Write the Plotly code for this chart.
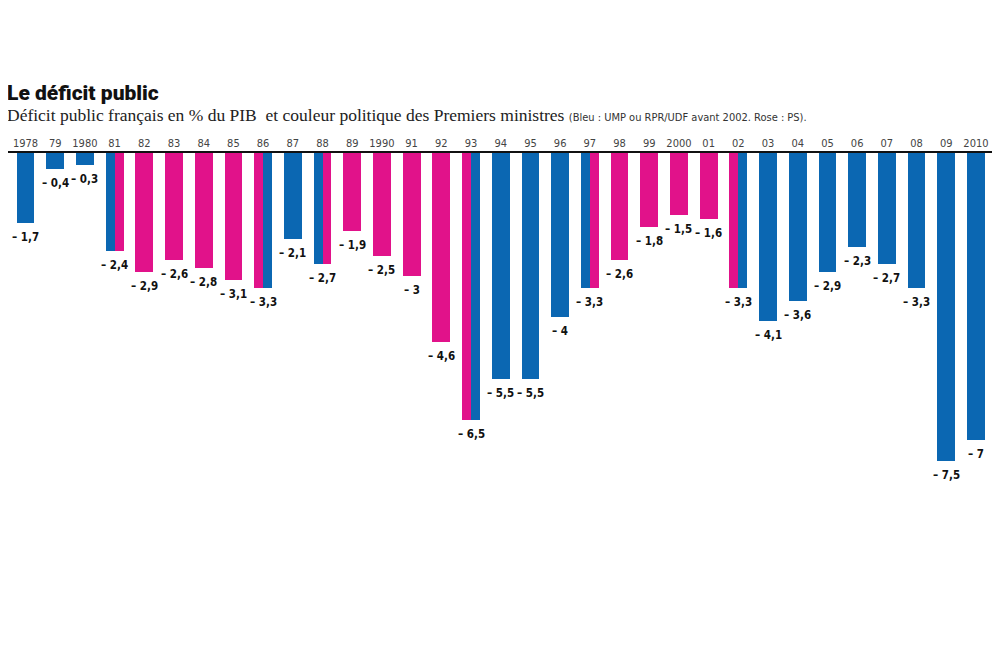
import plotly.graph_objects as go

years = ["1978", "79", "1980", "81", "82", "83", "84", "85", "86", "87", "88", "89", "1990",
         "91", "92", "93", "94", "95", "96", "97", "98", "99", "2000", "01", "02", "03", "04",
         "05", "06", "07", "08", "09", "2010"]
deficit = [-1.7, -0.4, -0.3, -2.4, -2.9, -2.6, -2.8, -3.1, -3.3, -2.1, -2.7, -1.9, -2.5,
           -3, -4.6, -6.5, -5.5, -5.5, -4, -3.3, -2.6, -1.8, -1.5, -1.6, -3.3, -4.1, -3.6,
           -2.9, -2.3, -2.7, -3.3, -7.5, -7]
# party of Prime Minister at start / end of year (B = UMP/RPR/UDF, P = PS)
party_start = ["B", "B", "B", "B", "P", "P", "P", "P", "P", "B", "B", "P", "P",
               "P", "P", "P", "B", "B", "B", "B", "P", "P", "P", "P", "P", "B", "B",
               "B", "B", "B", "B", "B", "B"]
party_end = ["B", "B", "B", "P", "P", "P", "P", "P", "B", "B", "P", "P", "P",
             "P", "P", "B", "B", "B", "B", "P", "P", "P", "P", "P", "B", "B", "B",
             "B", "B", "B", "B", "B", "B"]

BLUE = "#0b67b2"
PINK = "#e1128a"
col = {"B": BLUE, "P": PINK}
NARROW = "DejaVu Sans Condensed, Liberation Sans Narrow, Arial Narrow, sans-serif"

idx = list(range(len(years)))

fig = go.Figure()
fig.add_trace(go.Bar(
    x=idx, y=deficit, width=0.6,
    marker=dict(color=[col[p] for p in party_start], line=dict(width=0)),
    hoverinfo="skip", showlegend=False,
))
split = [i for i in idx if party_start[i] != party_end[i]]
fig.add_trace(go.Bar(
    x=[i + 0.15 for i in split], y=[deficit[i] for i in split], width=0.3,
    marker=dict(color=[col[party_end[i]] for i in split], line=dict(width=0)),
    hoverinfo="skip", showlegend=False,
))

# page has an 8px body margin: figure sits at (8, 8)
W, H = 984, 650
T, B, L, R = 145, 8, 0, 0
ph = H - T - B


def py(pix):  # page pixel -> paper y
    return 1 + (T - (pix - 8)) / ph


def fmt(v):
    return "– " + f"{abs(v):g}".replace(".", ",")


annotations = []
for i, v in zip(idx, deficit):
    annotations.append(dict(
        x=i, y=v, xref="x", yref="y", text=fmt(v), showarrow=False,
        yanchor="top", xanchor="center", yshift=-5,
        font=dict(family=NARROW, size=11.5, color="#111", weight="bold"),
    ))

annotations.append(dict(
    x=0, y=py(93), xref="paper", yref="paper", xanchor="left", yanchor="middle",
    xshift=-3, text="Le déficit public", showarrow=False,
    font=dict(family="Roboto", size=21, color="#111", weight=900),
))
annotations.append(dict(
    x=0, y=py(115), xref="paper", yref="paper", xanchor="left", yanchor="middle",
    xshift=-3,
    text="Déficit public français en % du PIB  et couleur politique des Premiers ministres "
         "<span style='font-family:DejaVu Sans Condensed;font-size:11px;color:#333'>"
         "(Bleu : UMP ou RPR/UDF avant 2002. Rose : PS).</span>",
    showarrow=False,
    font=dict(family="Liberation Serif", size=17.5, color="#222"),
))

fig.update_layout(
    width=W, height=H,
    margin=dict(l=L, r=R, t=T, b=B),
    paper_bgcolor="white", plot_bgcolor="white",
    barmode="overlay", bargap=0,
    annotations=annotations,
    xaxis=dict(
        range=[-0.589, 32.54], side="top", tickmode="array", tickvals=idx, ticktext=years,
        showgrid=False, zeroline=False, showline=True, linecolor="#111", linewidth=2,
        ticks="", tickfont=dict(family=NARROW, size=11, color="#444"),
        ticklabeloverflow="allow", fixedrange=True,
    ),
    yaxis=dict(
        range=[-ph / 41.0, 0], showgrid=False, zeroline=False, showline=False,
        showticklabels=False, ticks="", fixedrange=True,
    ),
)

fig.write_html("out.html")
